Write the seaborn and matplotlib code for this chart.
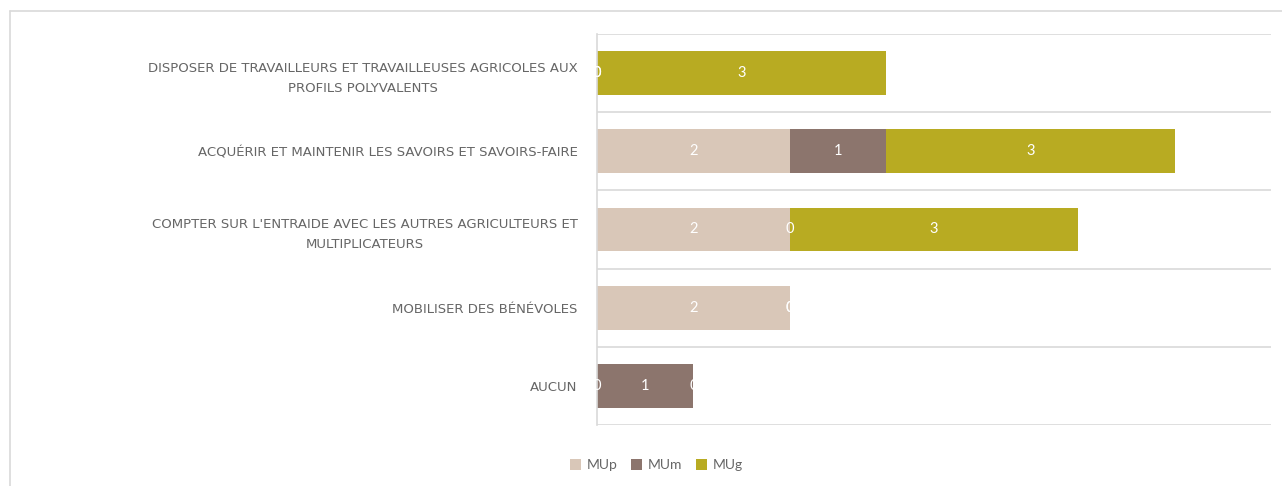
import matplotlib
matplotlib.use("Agg")
import matplotlib.pyplot as plt
from matplotlib.patches import Patch
from matplotlib.lines import Line2D
import seaborn as sns
import pandas as pd
import numpy as np

categories = [
    "DISPOSER DE TRAVAILLEURS ET TRAVAILLEUSES AGRICOLES AUX\nPROFILS POLYVALENTS",
    "ACQUÉRIR ET MAINTENIR LES SAVOIRS ET SAVOIRS-FAIRE",
    "COMPTER SUR L'ENTRAIDE AVEC LES AUTRES AGRICULTEURS ET\nMULTIPLICATEURS",
    "MOBILISER DES BÉNÉVOLES",
    "AUCUN",
]
mup = [0, 2, 2, 2, 0]
mum = [0, 1, 0, 0, 1]
mug = [3, 3, 3, 0, 0]
series_names = ["MUp", "MUm", "MUg"]
colors = ["#D9C7B8", "#8C756D", "#B8AB22"]

df = pd.DataFrame({"cat": categories, "MUp": mup, "MUm": mum, "MUg": mug})
df["c1"] = df["MUp"]
df["c2"] = df["MUp"] + df["MUm"]
df["c3"] = df["c2"] + df["MUg"]

sns.set_style("white")
plt.rcParams["font.family"] = ["Lato", "DejaVu Sans"]

fig = plt.figure(figsize=(12.82, 4.86), dpi=100)
ax = fig.add_axes([597 / 1282, 1 - 425 / 486, (1271 - 597) / 1282, (425 - 34) / 486])

# stacked look: draw cumulative totals from largest to smallest
for col, color in zip(["c3", "c2", "c1"], colors[::-1]):
    sns.barplot(data=df, y="cat", x=col, color=color, width=0.56,
                saturation=1, ax=ax, orient="h", linewidth=0, edgecolor="none")

# segment labels
for i in range(len(categories)):
    left = 0
    for name in series_names:
        v = df.loc[i, name]
        ax.text(left + v / 2, i, f"{v}", ha="center", va="center",
                color="white", fontsize=10.5)
        left += v

ax.set_xlim(0, 7)
ax.set_ylim(4.5, -0.5)
ax.hlines(np.arange(-0.5, len(categories)), 0, 7, color="#d9d9d9", lw=1.2, zorder=0)
ax.set_xlabel("")
ax.set_ylabel("")
ax.set_xticks([])
for s in ["top", "right", "bottom"]:
    ax.spines[s].set_visible(False)
ax.spines["left"].set_color("#d9d9d9")
ax.spines["left"].set_linewidth(1.2)
ax.tick_params(axis="y", length=0, pad=14)
for lbl in ax.get_yticklabels():
    lbl.set_color("#666666")
    lbl.set_fontsize(9.5)
    lbl.set_family(["DejaVu Sans"])
    lbl.set_horizontalalignment("right")
    lbl.set_multialignment("center")
    lbl.set_linespacing(1.7)

handles = [Patch(facecolor=c, edgecolor="none") for c in colors]
fig.legend(handles, series_names, loc="center", bbox_to_anchor=(0.512, 0.043),
           ncol=3, frameon=False, fontsize=10, handlelength=0.8, handleheight=0.8,
           handletextpad=0.4, columnspacing=1.0, labelcolor="#666666")

# outer chart frame (top and left edges visible)
fx = 10 / 1282
fy = 1 - 11 / 486
fig.add_artist(Line2D([fx, 1.0], [fy, fy], transform=fig.transFigure,
                      color="#d9d9d9", lw=1.2))
fig.add_artist(Line2D([fx, fx], [0.0, fy], transform=fig.transFigure,
                      color="#d9d9d9", lw=1.2))

fig.savefig("out.png", dpi=100)
plt.close(fig)
